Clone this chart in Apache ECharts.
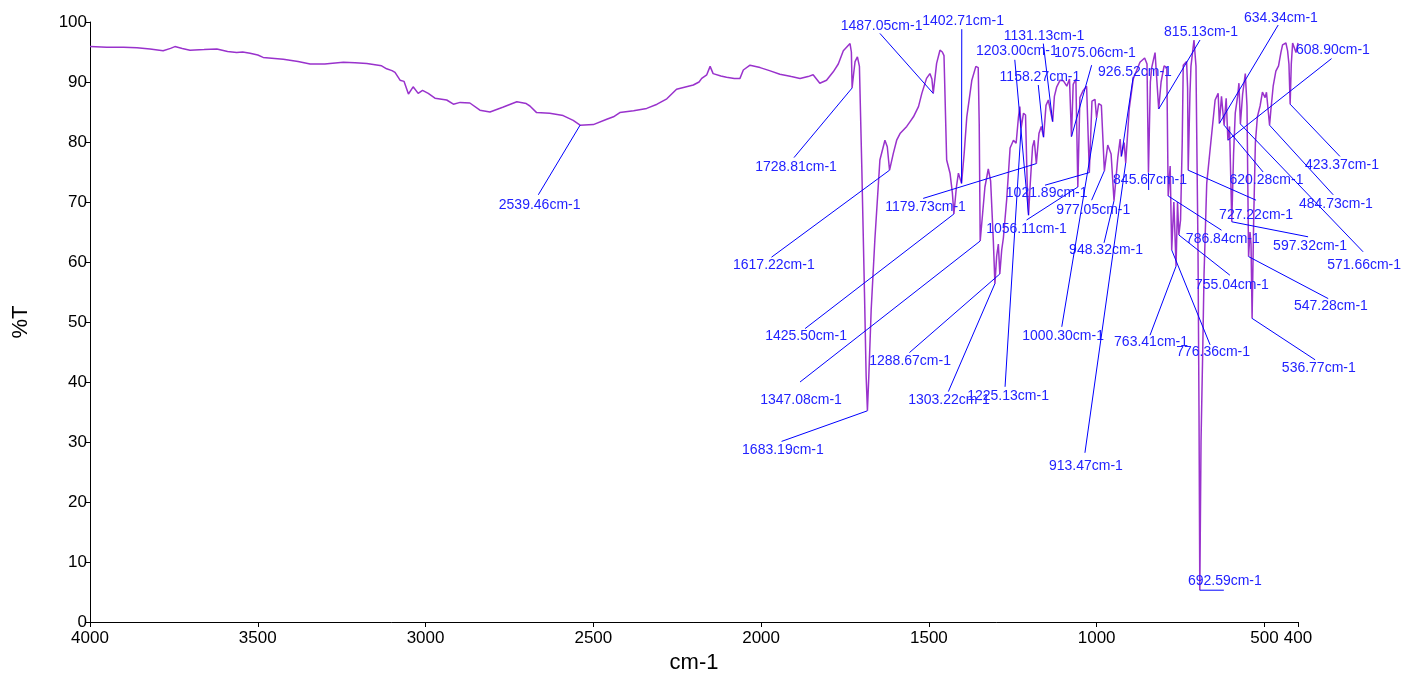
<!DOCTYPE html>
<html>
<head>
<meta charset="utf-8">
<script src="https://cdn.jsdelivr.net/npm/echarts@6/dist/echarts.min.js"></script>
<style>
html,body{margin:0;padding:0;background:#fff;}
#chart{width:1403px;height:675px;}
</style>
</head>
<body>
<div id="chart"></div>
<script>
// ---- Spectrum (wavenumber cm-1, %T) ----
const wavenumbers = [
4000,3950,3900,3860,3821,3782,3760,3747,3725,3702,3660,3622,3590,3563,3545,3523,3500,3484,3424,3380,
3344,3300,3285,3245,3210,3175,3131,3116,3100,3091,3076,3064,3051,3037,3022,3009,2992,2972,2937,2917,
2897,2868,2838,2808,2770,2728,2700,2689,2669,2630,2590,2560,2539.46,2500,2460,2440,2421,2380,2341,2310,
2281,2252,2202,2185,2177,2162,2152,2143,2120,2103,2080,2063,2053,2033,2003,1975,1944,1910,1884,1860,
1845,1825,1805,1785,1770,1755,1735,1731,1728.81,1724,1720,1713,1707,1700,1692,1687,1683.19,1679,1672,1661,
1646,1631,1624,1617.22,1606,1596,1586,1566,1556,1546,1531,1521,1507,1497,1491,1487.05,1477,1467,1460,1455,
1447,1437,1430,1425.50,1418,1412,1407,1402.71,1395,1387,1372,1360,1353,1350,1347.08,1340,1333,1323,1316,1308,
1303.22,1298,1293,1288.67,1283,1278,1268,1258,1248,1240,1233,1229,1225.13,1218,1212,1207,1203.00,1198,1191,1186,
1179.73,1172,1165,1158.27,1151,1144,1137,1131.13,1126,1119,1109,1099,1089,1081,1075.06,1070,1062,1056.11,1050,1040,
1030,1021.89,1014,1005,1000.30,994,986,977.05,967,957,948.32,937,930,926.52,918,913.47,903,891,871,857,
850,845.67,840,836,826,821,815.13,808,799,791,786.84,781,776.36,770,763.41,759,755.04,750,745,742,
732,729,727.22,722,719,710,704,698,695,692.59,689,684,680,672,662,647,638,634.34,628,620.28,
614,608.90,604,597.32,592,587,580,576,571.66,565,557,552,547.28,543,540,536.77,532,527,521,513,
506,498,494,484.73,481,474,466,458,451,446,436,431,427,423.37,420,416,406,400
];
const transmittance = [
95.9,95.8,95.8,95.7,95.5,95.2,95.6,95.9,95.6,95.3,95.4,95.5,95.1,94.9,95.0,94.8,94.5,94.1,93.8,93.4,
93.0,93.0,93.1,93.3,93.2,93.1,92.7,92.2,91.9,91.6,90.3,90.1,88.0,89.2,88.1,88.6,88.1,87.3,87.0,86.3,
86.6,86.5,85.3,85.0,85.8,86.7,86.4,86.0,84.9,84.8,84.4,83.6,82.8,82.9,83.8,84.2,84.9,85.2,85.6,86.3,
87.2,88.8,89.5,90.0,90.6,91.2,92.6,91.4,91.0,90.8,90.6,90.6,92.0,92.8,92.4,91.9,91.3,90.9,90.6,90.9,
91.2,89.8,90.3,91.7,93.0,95.2,96.4,95.0,89.0,91.5,93.4,94.2,92.6,75.9,55.0,41.0,35.2,41.0,52.0,63.7,
77.0,80.3,79.2,75.3,78.1,80.3,81.4,82.6,83.4,84.2,85.9,88.1,90.6,91.4,90.5,88.1,93.1,95.3,95.0,94.4,
77.0,74.8,71.5,68.0,72.5,74.8,74.5,73.1,78.0,84.2,90.3,92.6,92.4,83.0,63.5,68.0,72.5,75.5,73.5,63.6,
56.4,61.0,63.0,58.0,62.0,64.0,70.5,79.0,80.3,79.8,84.2,85.9,82.3,84.8,84.5,73.0,67.8,73.0,79.2,80.3,
76.4,81.4,82.6,80.8,86.1,87.0,85.0,83.4,87.6,89.2,90.3,90.2,89.3,90.5,80.9,89.6,90.5,72.5,87.4,88.6,
89.3,74.9,86.8,87.1,84.0,86.4,86.1,75.2,79.5,78.0,70.2,77.4,80.5,77.6,79.9,76.5,85.5,90.5,93.3,94.0,
93.0,74.9,90.0,92.4,94.9,94.7,85.5,90.0,92.7,92.4,71.0,76.0,62.0,70.0,59.3,70.0,64.5,67.0,80.0,92.8,
93.4,89.0,75.3,88.0,92.6,97.0,92.6,62.0,35.0,5.3,30.0,45.0,58.0,73.1,78.7,87.0,88.1,83.1,87.6,82.8,
87.3,80.3,82.6,66.7,78.0,84.8,87.6,89.8,83.0,88.0,91.4,86.0,60.9,65.0,63.0,50.6,67.3,79.9,84.2,86.0,
88.3,87.4,88.3,82.8,85.2,89.3,91.8,92.7,94.9,96.2,96.5,95.2,93.0,86.3,93.0,96.5,94.9,96.5
];

// ---- Peak annotations ----
const peakLabels = ['2539.46cm-1','1728.81cm-1','1487.05cm-1','1402.71cm-1','1617.22cm-1','1179.73cm-1','1425.50cm-1','1347.08cm-1','1683.19cm-1','1288.67cm-1',
'1303.22cm-1','1225.13cm-1','1203.00cm-1','1131.13cm-1','1158.27cm-1','1075.06cm-1','926.52cm-1','1021.89cm-1','1056.11cm-1','977.05cm-1',
'948.32cm-1','1000.30cm-1','913.47cm-1','845.67cm-1','815.13cm-1','634.34cm-1','608.90cm-1','620.28cm-1','423.37cm-1','484.73cm-1',
'727.22cm-1','597.32cm-1','571.66cm-1','786.84cm-1','755.04cm-1','547.28cm-1','536.77cm-1','763.41cm-1','776.36cm-1','692.59cm-1'];
const peakWn = [2539.46,1728.81,1487.05,1402.71,1617.22,1179.73,1425.50,1347.08,1683.19,1288.67,
1303.22,1225.13,1203.00,1131.13,1158.27,1075.06,926.52,1021.89,1056.11,977.05,
948.32,1000.30,913.47,845.67,815.13,634.34,608.90,620.28,423.37,484.73,
727.22,597.32,571.66,786.84,755.04,547.28,536.77,763.41,776.36,692.59];
// leader-line end (in axis units)
const leaderWn = [2664,1902,1646,1402,1969,1517,1869,1884,1939,1558,
1442,1273,1244,1159,1174,1015,891,1154,1209,1015,
978,1104,1035,845,692,459,300,504,275,295,
525,370,206,628,603,310,349,841,662,621];
const leaderT = [71.2,77.4,98.1,98.8,60.8,70.6,48.9,40.0,30.1,44.9,
38.4,39.2,93.7,96.4,89.5,92.8,90.9,72.8,67.0,70.3,
63.2,49.2,28.2,72.0,97.0,99.5,93.9,75.0,77.6,71.2,
70.3,64.2,61.7,65.3,57.8,53.9,43.7,47.8,46.2,5.3];
// label centre (in axis units)
const labelWn = [2660,1896,1641,1398,1962,1510,1866,1881,1935,1556,
1440,1264,1238,1157,1169,1005,886,1149,1209,1010,
972,1100,1032,841,689,451,296,494,269,287,
525,364,203,624,597,302,338,838,653,618];
const labelT = [69.5,75.8,99.3,100.2,59.5,69.1,47.6,37.0,28.7,43.4,
36.9,37.7,95.1,97.6,90.8,94.8,91.6,71.4,65.4,68.7,
62.0,47.6,26.0,73.7,98.3,100.7,95.3,73.7,76.2,69.7,
67.8,62.7,59.5,63.8,56.2,52.6,42.3,46.6,44.9,6.8];

const xTicks = [4000,3500,3000,2500,2000,1500,1000,500,400];

const FONT = 'Liberation Sans, Arial, Helvetica, sans-serif';
const spectrum = wavenumbers.map((w, i) => [w, transmittance[i]]);
const peakT = peakWn.map(w => transmittance[wavenumbers.indexOf(w)]);
const annData = peakWn.map((w, i) => [w, peakT[i], leaderWn[i], leaderT[i], labelWn[i], labelT[i], i]);

const chart = echarts.init(document.getElementById('chart'), null, {renderer: 'canvas'});
chart.setOption({
  animation: false,
  backgroundColor: '#ffffff',
  grid: {left: 90, right: 105, top: 22, bottom: 53, containLabel: false, outerBoundsMode: 'none'},
  xAxis: {
    type: 'value', inverse: true, min: 400, max: 4000,
    name: 'cm-1', nameLocation: 'middle', nameGap: 28,
    nameTextStyle: {color: '#000', fontSize: 22, fontFamily: FONT},
    axisLine: {show: true, lineStyle: {color: '#000', width: 1}},
    axisTick: {show: true, customValues: xTicks, length: 5, lineStyle: {color: '#000'}},
    axisLabel: {customValues: xTicks, color: '#000', fontSize: 17, fontFamily: FONT, margin: 8,
                formatter: function (v) { return String(v); }},
    splitLine: {show: false}
  },
  yAxis: {
    type: 'value', min: 0, max: 100, interval: 10,
    name: '%T', nameLocation: 'middle', nameGap: 58, nameRotate: 90,
    nameTextStyle: {color: '#000', fontSize: 22, fontFamily: FONT},
    axisLine: {show: true, lineStyle: {color: '#000', width: 1}},
    axisTick: {show: true, length: 5, lineStyle: {color: '#000'}},
    axisLabel: {color: '#000', fontSize: 17, fontFamily: FONT, margin: 3,
                formatter: function (v) { return String(v); }},
    splitLine: {show: false}
  },
  series: [
    {
      type: 'line', data: spectrum, showSymbol: false, symbol: 'none',
      lineStyle: {color: '#9932cc', width: 1.5}, itemStyle: {color: '#9932cc'},
      sampling: null, z: 2
    },
    {
      type: 'custom', data: annData, clip: false, z: 3,
      encode: {x: 0, y: 1},
      renderItem: function (params, api) {
        const p = api.coord([api.value(0), api.value(1)]);
        const e = api.coord([api.value(2), api.value(3)]);
        const l = api.coord([api.value(4), api.value(5)]);
        const idx = api.value(6);
        return {
          type: 'group',
          children: [
            {type: 'line', shape: {x1: p[0], y1: p[1], x2: e[0], y2: e[1]},
             style: {stroke: '#0000ff', lineWidth: 1}},
            {type: 'text', x: l[0], y: l[1],
             style: {text: peakLabels[idx], fill: '#2222ff', font: '14px ' + FONT,
                     align: 'center', verticalAlign: 'middle'}}
          ]
        };
      }
    }
  ]
});
</script>
</body>
</html>
